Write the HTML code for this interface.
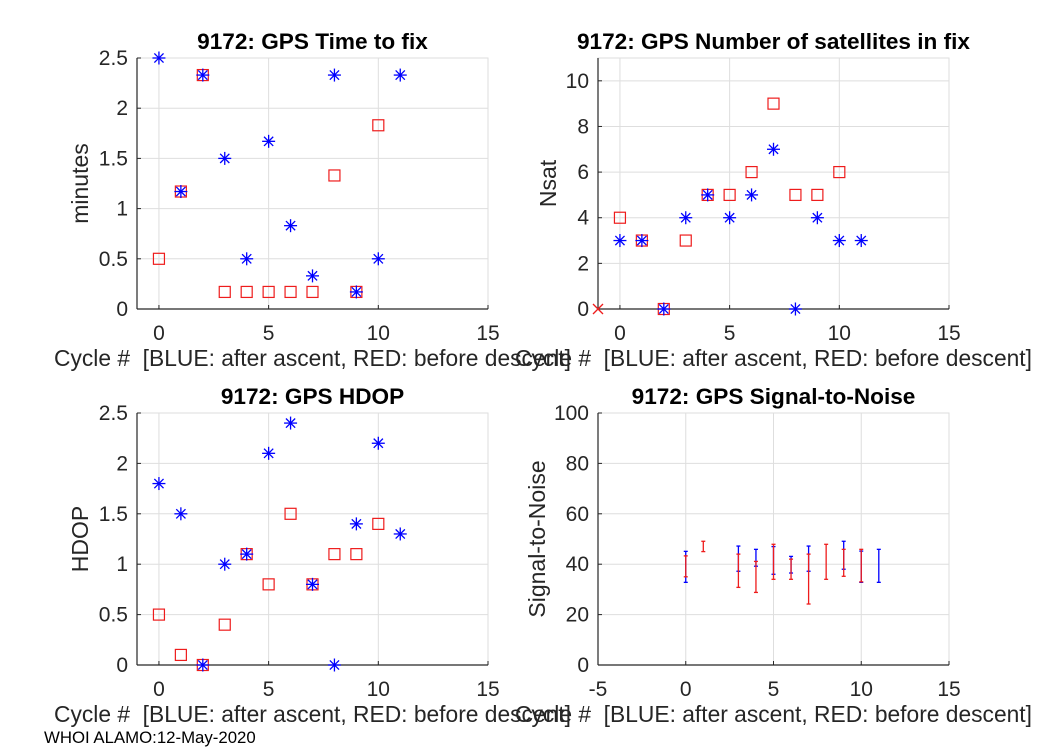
<!DOCTYPE html>
<html><head><meta charset="utf-8"><style>
body{margin:0;background:#fff;width:1050px;height:750px;overflow:hidden}
svg{display:block;font-family:"Liberation Sans",sans-serif}
</style></head><body>
<svg id="fig" width="1050" height="750" viewBox="0 0 1050 750"></svg>
<script>
const cycles=[0,1,2,3,4,5,6,7,8,9,10,11];
const redCycles=[0,1,2,3,4,5,6,7,8,9,10];
const ttfBlue=[2.5,1.17,2.33,1.5,0.5,1.67,0.83,0.33,2.33,0.17,0.5,2.33];
const ttfRed=[0.5,1.17,2.33,0.17,0.17,0.17,0.17,0.17,1.33,0.17,1.83];
const nsatBlue=[3,3,0,4,5,4,5,7,0,4,3,3];
const nsatRed=[4,3,0,3,5,5,6,9,5,5,6];
const hdopBlue=[1.8,1.5,0,1.0,1.1,2.1,2.4,0.8,0,1.4,2.2,1.3];
const hdopRed=[0.5,0.1,0,0.4,1.1,0.8,1.5,0.8,1.1,1.1,1.4];
const snrBlueCycles=[0,3,4,5,6,7,9,10,11];
const snrBlueHi=[45.1,47.2,45.9,47.0,43.1,47.2,49.1,45.2,45.9];
const snrBlueLo=[32.8,37.2,39.2,36.0,36.5,37.2,38.0,32.8,32.8];
const snrRedCycles=[0,1,3,4,5,6,7,8,9,10];
const snrRedHi=[43.3,49.1,44.0,41.1,47.9,42.0,44.0,47.9,45.9,45.9];
const snrRedLo=[35.0,45.0,30.8,28.8,34.0,34.0,24.2,34.0,35.2,33.0];
const xTicksA=[0,5,10,15];
const xTicksB=[-5,0,5,10,15];
const yTicksTtf=[0,0.5,1,1.5,2,2.5];
const yTicksNsat=[0,2,4,6,8,10];
const yTicksSnr=[0,20,40,60,80,100];

const NS="http://www.w3.org/2000/svg";
const svg=document.getElementById('fig');
function mk(tag,attrs,parent){const e=document.createElementNS(NS,tag);for(const k in attrs)e.setAttribute(k,attrs[k]);(parent||svg).appendChild(e);return e;}
const BLUE="#0000ff",RED="#ee1c1c";

function panel(o){
  const g=mk('g',{});
  
  
  const sx=v=>o.x0+(v-o.xmin)/(o.xmax-o.xmin)*(o.x1-o.x0);
  const sy=v=>o.y1-(v-o.ymin)/(o.ymax-o.ymin)*(o.y1-o.y0);
  mk('rect',{x:o.x0,y:o.y0,width:o.x1-o.x0,height:o.y1-o.y0,fill:'none',stroke:'#dedede','stroke-width':1},g);
  o.xt.forEach(t=>{mk('line',{x1:sx(t),x2:sx(t),y1:o.y0,y2:o.y1,stroke:'#dedede','stroke-width':1},g);});
  o.yt.forEach(t=>{mk('line',{x1:o.x0,x2:o.x1,y1:sy(t),y2:sy(t),stroke:'#dedede','stroke-width':1},g);});
  mk('line',{x1:o.x0,x2:o.x0,y1:o.y0,y2:o.y1,stroke:'#262626','stroke-width':1.2},g);
  mk('line',{x1:o.x0,x2:o.x1,y1:o.y1,y2:o.y1,stroke:'#262626','stroke-width':1.2},g);
  o.xt.forEach(t=>{
    mk('line',{x1:sx(t),x2:sx(t),y1:o.y1,y2:o.y1-4,stroke:'#262626'},g);
    const tx=mk('text',{x:sx(t),y:o.y1+31,'text-anchor':'middle','font-size':21,fill:'#262626'},g);tx.textContent=t;
    
    
  });
  o.yt.forEach(t=>{
    mk('line',{x1:o.x0,x2:o.x0+4,y1:sy(t),y2:sy(t),stroke:'#262626'},g);
    const tx=mk('text',{x:o.x0-9,y:sy(t)+7,'text-anchor':'end','font-size':21,fill:'#262626'},g);tx.textContent=t;
    
    
  });
  const tt=mk('text',{x:(o.x0+o.x1)/2,y:o.y0-9,'text-anchor':'middle','font-size':22.6,'font-weight':'bold',fill:'#000'},g);tt.textContent=o.title;
  
  
  const xl=mk('text',{x:(o.x0+o.x1)/2,y:o.y1+57,'text-anchor':'middle','font-size':22.8,fill:'#262626'},g);xl.textContent='Cycle #  [BLUE: after ascent, RED: before descent]';
  
  
  xl.setAttribute('xml:space','preserve');xl.style.whiteSpace='pre';
  const yl=mk('text',{transform:`translate(${o.ylx},${(o.y0+o.y1)/2}) rotate(-90)`,'text-anchor':'middle','font-size':23,fill:'#262626'},g);yl.textContent=o.ylabel;
  
  
  return {g,sx,sy};
}
function squares(p,xs,ys){xs.forEach((c,i)=>{const r=mk('rect',{x:p.sx(c)-5.5,y:p.sy(ys[i])-5.5,width:11,height:11,fill:'none',stroke:RED,'stroke-width':1.2},p.g);
  
  });}
function stars(p,xs,ys){xs.forEach((c,i)=>{const x=p.sx(c),y=p.sy(ys[i]);const s=mk('g',{stroke:BLUE,'stroke-width':1.3},p.g);
  
  
  mk('line',{x1:x-6.5,x2:x+6.5,y1:y,y2:y},s);mk('line',{x1:x,x2:x,y1:y-6.5,y2:y+6.5},s);
  mk('line',{x1:x-4.6,x2:x+4.6,y1:y-4.6,y2:y+4.6},s);mk('line',{x1:x-4.6,x2:x+4.6,y1:y+4.6,y2:y-4.6},s);});}

const L={x0:137,x1:488},R={x0:598,x1:949},T={y0:58,y1:309},B={y0:413,y1:665};
const p1=panel({name:'time-to-fix-panel',...L,...T,xmin:-1,xmax:15,ymin:0,ymax:2.5,xt:xTicksA,yt:yTicksTtf,title:'9172: GPS Time to fix',ylabel:'minutes',ylx:88});
squares(p1,redCycles,ttfRed);stars(p1,cycles,ttfBlue);
const p2=panel({name:'num-satellites-panel',...R,...T,xmin:-1,xmax:15,ymin:0,ymax:11,xt:xTicksA,yt:yTicksNsat,title:'9172: GPS Number of satellites in fix',ylabel:'Nsat',ylx:556});
squares(p2,redCycles,nsatRed);stars(p2,cycles,nsatBlue);
{const x=p2.sx(-1),y=p2.sy(0);const c=mk('g',{stroke:RED,'stroke-width':1.3},p2.g);


mk('line',{x1:x-5,x2:x+5,y1:y-5,y2:y+5},c);mk('line',{x1:x-5,x2:x+5,y1:y+5,y2:y-5},c);}
const p3=panel({name:'hdop-panel',...L,...B,xmin:-1,xmax:15,ymin:0,ymax:2.5,xt:xTicksA,yt:yTicksTtf,title:'9172: GPS HDOP',ylabel:'HDOP',ylx:88});
squares(p3,redCycles,hdopRed);stars(p3,cycles,hdopBlue);
const p4=panel({name:'signal-to-noise-panel',...R,...B,xmin:-5,xmax:15,ymin:0,ymax:100,xt:xTicksB,yt:yTicksSnr,title:'9172: GPS Signal-to-Noise',ylabel:'Signal-to-Noise',ylx:545});
function bars(p,xs,hi,lo,col){xs.forEach((c,i)=>{const x=p.sx(c),a=p.sy(hi[i]),b=p.sy(lo[i]);const e=mk('g',{stroke:col,'stroke-width':1.3},p.g);
  
  
  mk('line',{x1:x,x2:x,y1:a,y2:b},e);mk('line',{x1:x-2,x2:x+2,y1:a,y2:a},e);mk('line',{x1:x-2,x2:x+2,y1:b,y2:b},e);});}
bars(p4,snrBlueCycles,snrBlueHi,snrBlueLo,BLUE);bars(p4,snrRedCycles,snrRedHi,snrRedLo,RED);
const ft=mk('text',{x:44,y:743,'font-size':16.8,fill:'#000'});ft.textContent='WHOI ALAMO:12-May-2020';


</script>
</body></html>
